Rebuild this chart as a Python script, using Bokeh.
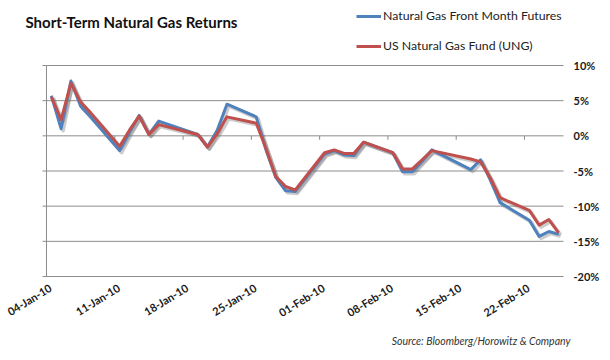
import pandas as pd
from bokeh.plotting import figure
from bokeh.models import Range1d, Legend, LegendItem, Label
from bokeh.core.properties import value
from bokeh.embed import file_html
from bokeh.resources import INLINE

# ---------------- data ----------------
dates = [
    "2010-01-04", "2010-01-05", "2010-01-06", "2010-01-07", "2010-01-08",
    "2010-01-11", "2010-01-12", "2010-01-13", "2010-01-14", "2010-01-15",
    "2010-01-19", "2010-01-20", "2010-01-21", "2010-01-22",
    "2010-01-25", "2010-01-26", "2010-01-27", "2010-01-28", "2010-01-29",
    "2010-02-01", "2010-02-02", "2010-02-03", "2010-02-04", "2010-02-05",
    "2010-02-08", "2010-02-09", "2010-02-10", "2010-02-11", "2010-02-12",
    "2010-02-16", "2010-02-17", "2010-02-18", "2010-02-19",
    "2010-02-22", "2010-02-23", "2010-02-24", "2010-02-25",
]
futures = [
    5.7, 1.0, 7.8, 4.2, 2.7,
    -2.1, 0.5, 2.9, 0.2, 2.1,
    0.2, -1.6, 0.8, 4.5,
    2.7, -2.0, -5.9, -7.8, -7.9,
    -2.6, -2.1, -2.7, -2.8, -0.9,
    -2.4, -5.1, -5.1, -3.6, -2.0,
    -4.8, -3.4, -6.3, -9.5,
    -12.0, -14.3, -13.6, -14.0,
]
ung = [
    5.5, 2.3, 7.5, 4.8, 3.3,
    -1.5, 0.8, 2.8, 0.2, 1.6,
    0.2, -1.6, 0.3, 2.7,
    1.8, -1.8, -5.8, -7.2, -7.7,
    -2.4, -2.0, -2.5, -2.5, -0.9,
    -2.4, -4.7, -4.7, -3.4, -2.1,
    -3.3, -3.7, -6.0, -8.8,
    -10.6, -12.7, -11.9, -13.8,
]
series_names = ["Natural Gas Front Month Futures", "US Natural Gas Fund (UNG)"]
series_colors = ["#4F81BD", "#C0504D"]
x_tick_dates = ["2010-01-04", "2010-01-11", "2010-01-18", "2010-01-25",
                "2010-02-01", "2010-02-08", "2010-02-15", "2010-02-22"]
x_tick_labels = ["04-Jan-10", "11-Jan-10", "18-Jan-10", "25-Jan-10",
                 "01-Feb-10", "08-Feb-10", "15-Feb-10", "22-Feb-10"]
x_start_date = "2010-01-04"
x_end_date = "2010-02-26"
y_ticks = [-20, -15, -10, -5, 0, 5, 10]
y_tick_labels = ["-20%", "-15%", "-10%", "-5%", "0%", "5%", "10%"]
title_text = "Short-Term Natural Gas Returns"
source_text = "Source: Bloomberg/Horowitz & Company"

# ---------------- geometry ----------------
DAY = 86400000


def ms(d):
    return int(pd.Timestamp(d).value // 10**6)


xs = [ms(d) + DAY // 2 for d in dates]
x_tick_ms = [ms(d) for d in x_tick_dates]
x_start, x_end = ms(x_start_date), ms(x_end_date)
y_lo, y_hi = y_ticks[0], y_ticks[-1]

W, H = 606, 356
FL, FR, FT, FB = 46, 563, 65, 276          # plot-area edges on the canvas (px)
kx = (FR - FL) / (x_end - x_start)         # px per ms
ky = (FB - FT) / (y_hi - y_lo)             # px per percent

xr = (x_start - FL / kx, x_end + (W - FR) / kx)
yr = (y_lo - (H - FB) / ky, y_hi + FT / ky)

FONT = "Lato"
GRID = "#8c8c8c"
TXT = "#1a1a1a"

p = figure(width=W, height=H, x_range=Range1d(*xr), y_range=Range1d(*yr),
           x_axis_location=None, y_axis_location=None,
           output_backend="svg", toolbar_location=None,
           min_border=0, background_fill_color="white", border_fill_color="white",
           outline_line_color=None)
p.grid.visible = False

# shadow ranges (offset 2px right / 2px down)
sdx, sdy = 2.0 / kx, 2.0 / ky
p.extra_x_ranges = {"sh": Range1d(xr[0] - sdx, xr[1] - sdx)}
p.extra_y_ranges = {"sh": Range1d(yr[0] + sdy, yr[1] + sdy)}

# horizontal gridlines
n = len(y_ticks)
p.segment(x0=[x_start] * n, y0=y_ticks, x1=[x_end] * n, y1=y_ticks,
          line_color=GRID, line_width=1)
# left axis line and its ticks
p.segment(x0=[x_start], y0=[y_lo], x1=[x_start], y1=[y_hi], line_color=GRID, line_width=1)
p.segment(x0=[x_start - 4 / kx] * n, y0=y_ticks, x1=[x_start] * n, y1=y_ticks,
          line_color=GRID, line_width=1)
# category tick marks hanging from the 0% line
m = len(x_tick_ms)
p.segment(x0=x_tick_ms, y0=[0] * m, x1=x_tick_ms, y1=[-4 / ky] * m,
          line_color=GRID, line_width=1)

# series lines (shadow first)
for vals in (futures, ung):
    p.line(xs, vals, x_range_name="sh", y_range_name="sh",
           line_color="#6e6e6e", line_alpha=0.35, line_width=3.5, line_join="round")
r_f = p.line(xs, futures, line_color=series_colors[0], line_width=3, line_join="round")
r_u = p.line(xs, ung, line_color=series_colors[1], line_width=3, line_join="round")

# right-hand value labels
p.text(x=[x_end] * n, y=y_ticks, text=y_tick_labels, x_offset=10,
       text_align="left", text_baseline="middle", text_font=value(FONT),
       text_font_size="11px", text_font_style="bold", text_color=TXT)
# rotated date labels
p.text(x=x_tick_ms, y=[y_lo] * m, text=x_tick_labels, x_offset=4, y_offset=10, angle=0.55,
       text_align="right", text_baseline="middle", text_font=value(FONT),
       text_font_size="11px", text_font_style="bold", text_color=TXT)

# legend
legend = Legend(items=[LegendItem(label=series_names[0], renderers=[r_f]),
                       LegendItem(label=series_names[1], renderers=[r_u])],
                location=(356, H - 53), orientation="vertical",
                glyph_width=25, glyph_height=12, label_height=12, label_width=10,
                label_standoff=2, spacing=15, padding=0, margin=0,
                border_line_color=None, background_fill_alpha=0,
                label_text_font=FONT, label_text_font_size="12.3px",
                label_text_color="#222222")
p.add_layout(legend)

# title and source note
p.add_layout(Label(x=25, y=H - 21, x_units="screen", y_units="screen", text=title_text,
                   text_font=FONT, text_font_size="15px", text_font_style="bold",
                   text_baseline="middle", text_color="#111111"))
p.add_layout(Label(x=570, y=H - 340, x_units="screen", y_units="screen", text=source_text,
                   text_font=FONT, text_font_size="10.5px", text_font_style="italic",
                   text_align="right", text_baseline="middle", text_color="#333333"))

open("out.html", "w").write(file_html(p, INLINE))
